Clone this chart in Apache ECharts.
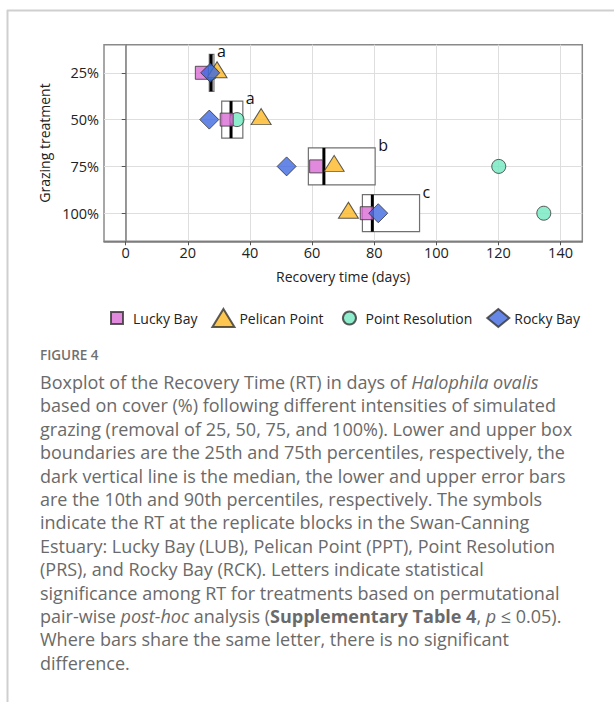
<!DOCTYPE html>
<html>
<head>
<meta charset="utf-8">
<script src="https://cdn.jsdelivr.net/npm/echarts@6/dist/echarts.min.js"></script>
<style>
  html, body { margin: 0; padding: 0; background: #fff; }
  #chart { width: 614px; height: 702px; }
</style>
</head>
<body>
<div id="chart"></div>
<script>
// Grazing treatments (rows, top to bottom) and recovery time ticks
const treatments = ['25%', '50%', '75%', '100%'];
const xTicks = [0, 20, 40, 60, 80, 100, 120, 140];

// Recovery time (days) at each replicate block
const luckyBay        = [24.5, 32.5, 61.3, 77.6];
const pelicanPoint    = [29.4, 43.6, 67.1, 71.7];
const pointResolution = [27.5, 35.8, 120.1, 134.6];
const rockyBay        = [27.2, 26.9, 51.8, 81.3];

// Box statistics per treatment (25th percentile, median, 75th percentile)
const boxQ1     = [26.9, 30.9, 58.8, 76.2];
const boxMedian = [27.5, 33.9, 63.8, 79.4];
const boxQ3     = [28.4, 37.7, 80.3, 94.6];
const groupLetters = ['a', 'a', 'b', 'c'];

const BOX_HEIGHT = 0.79;   // box thickness in row units
const FONT = 'Open Sans';

const rowPos = treatments.map((_, i) => i + 1);
const pts = vals => vals.map((v, i) => [v, rowPos[i]]);
const boxData = treatments.map((_, i) => [boxQ1[i], boxMedian[i], boxQ3[i], rowPos[i]]);

function boxGeom(api) {
  const y = api.value(3);
  const l = api.coord([api.value(0), y]);
  const m = api.coord([api.value(1), y]);
  const r = api.coord([api.value(2), y]);
  const h = Math.abs(api.size([0, BOX_HEIGHT])[1]);
  return { l, m, r, h, top: l[1] - h / 2 };
}

const captionLines = [
  '{n|Boxplot of the Recovery Time (RT) in days of }{i|Halophila ovalis}',
  '{n|based on cover (%) following different intensities of simulated}',
  '{n|grazing (removal of 25, 50, 75, and 100%). Lower and upper box}',
  '{n|boundaries are the 25th and 75th percentiles, respectively, the}',
  '{n|dark vertical line is the median, the lower and upper error bars}',
  '{n|are the 10th and 90th percentiles, respectively. The symbols}',
  '{n|indicate the RT at the replicate blocks in the Swan-Canning}',
  '{n|Estuary: Lucky Bay (LUB), Pelican Point (PPT), Point Resolution}',
  '{n|(PRS), and Rocky Bay (RCK). Letters indicate statistical}',
  '{n|significance among RT for treatments based on permutational}',
  '{n|pair-wise }{i|post-hoc}{n| analysis (}{g|Supplementary Table 4}{n|, }{i|p}{n| ≤ 0.05).}',
  '{n|Where bars share the same letter, there is no significant}',
  '{n|difference.}'
];
const CAP_SIZE = 18;
const capRich = {
  n: { fontFamily: FONT, fontSize: CAP_SIZE, color: '#6a6a6a' },
  i: { fontFamily: FONT, fontSize: CAP_SIZE, color: '#6a6a6a', fontStyle: 'italic' },
  g: { fontFamily: FONT, fontSize: CAP_SIZE, color: '#3fae4a', fontWeight: 'bold' }
};

const markerBorder = { borderColor: '#333', borderWidth: 1 };
const axisText = { fontFamily: FONT, fontSize: 14.5, color: '#222' };
const nameText = { fontFamily: FONT, fontSize: 14, color: '#222' };

const chart = echarts.init(document.getElementById('chart'), null, { renderer: 'svg' });
chart.setOption({
  animation: false,
  backgroundColor: '#fff',
  grid: {
    left: 104, top: 44.7, right: 31.7, bottom: 460.7,
    show: true, borderColor: '#8a8a8a', borderWidth: 1.5, containLabel: false
  },
  xAxis: {
    type: 'value', min: -7, max: 147,
    name: 'Recovery time (days)', nameLocation: 'middle', nameGap: 28,
    nameTextStyle: nameText,
    axisLine: { show: true, lineStyle: { color: '#7a7a7a', width: 1.5 } },
    axisTick: { show: true, length: 4, customValues: xTicks, lineStyle: { color: '#555' } },
    axisLabel: Object.assign({ customValues: xTicks, margin: 4 }, axisText),
    splitLine: { show: true, lineStyle: { color: '#dedede', width: 1 } }
  },
  yAxis: {
    type: 'value', inverse: true, min: 0.4, max: 4.6,
    name: 'Grazing treatment', nameLocation: 'middle', nameGap: 50, nameRotate: 90,
    nameTextStyle: nameText,
    axisLine: { show: true, lineStyle: { color: '#7a7a7a', width: 1.5 } },
    axisTick: { show: true, length: 4, customValues: rowPos, lineStyle: { color: '#555' } },
    axisLabel: Object.assign({
      customValues: rowPos, margin: 5,
      formatter: v => treatments[Math.round(v) - 1] || ''
    }, axisText),
    splitLine: { show: true, lineStyle: { color: '#dedede', width: 1 } }
  },
  legend: {
    data: [
      { name: 'Lucky Bay', icon: 'path://M0,0M22,18M5,3h12v12h-12z' },
      { name: 'Pelican Point', icon: 'triangle' },
      { name: 'Point Resolution', icon: 'path://M0,0M22,18M11,2.5a6.5,6.5 0 1,0 0.001,0z' },
      { name: 'Rocky Bay', icon: 'diamond' }
    ],
    left: 100, top: 303, itemWidth: 22, itemHeight: 18, itemGap: 14,
    textStyle: { fontFamily: FONT, fontSize: 14, color: '#222' }
  },
  series: [
    {
      type: 'custom', name: 'boxes', data: boxData, silent: true,
      renderItem: (params, api) => {
        const g = boxGeom(api);
        return {
          type: 'rect',
          shape: { x: g.l[0], y: g.top, width: g.r[0] - g.l[0], height: g.h },
          style: { fill: '#fff', stroke: '#707070', lineWidth: 1.2 }
        };
      }
    },
    {
      type: 'scatter', name: 'Point Resolution', data: pts(pointResolution),
      symbol: 'circle', symbolSize: 14,
      itemStyle: Object.assign({ color: '#72e8c1' }, markerBorder)
    },
    {
      type: 'custom', name: 'medians', data: boxData, silent: true,
      renderItem: (params, api) => {
        const g = boxGeom(api);
        return {
          type: 'group',
          children: [
            { type: 'line', shape: { x1: g.m[0], y1: g.top, x2: g.m[0], y2: g.top + g.h },
              style: { stroke: '#000', lineWidth: 3 } },
            { type: 'text', x: g.r[0] + 3, y: g.top - 3,
              style: { text: groupLetters[params.dataIndex], fontFamily: FONT, fontSize: 16,
                       fill: '#111', verticalAlign: 'middle', align: 'left' } }
          ]
        };
      }
    },
    {
      type: 'scatter', name: 'Lucky Bay', data: pts(luckyBay),
      symbol: 'rect', symbolSize: 13,
      itemStyle: Object.assign({ color: '#d86bd5' }, markerBorder)
    },
    {
      type: 'scatter', name: 'Pelican Point', data: pts(pelicanPoint),
      symbol: 'triangle', symbolSize: [20, 16], symbolOffset: [0, -3],
      itemStyle: Object.assign({ color: '#fbb826' }, markerBorder)
    },
    {
      type: 'scatter', name: 'Rocky Bay', data: pts(rockyBay),
      symbol: 'diamond', symbolSize: 19,
      itemStyle: Object.assign({ color: '#4169e1' }, markerBorder)
    }
  ],
  graphic: [
    { type: 'line', shape: { x1: 7.5, y1: 10, x2: 7.5, y2: 702 }, style: { stroke: '#cfcfcf', lineWidth: 2 } },
    { type: 'line', shape: { x1: 7, y1: 10.5, x2: 614, y2: 10.5 }, style: { stroke: '#cfcfcf', lineWidth: 2 } },
    { type: 'text', x: 40, y: 355,
      style: { text: 'FIGURE 4', fontFamily: FONT, fontSize: 13.5, fontWeight: 600,
               fill: '#707070', verticalAlign: 'middle' } }
  ].concat(captionLines.map((line, i) => ({
    type: 'text', x: 40, y: 382 + i * 23.4,
    style: { text: line, rich: capRich, verticalAlign: 'middle', fontFamily: FONT, fontSize: CAP_SIZE, fill: '#6a6a6a' }
  })))
});
</script>
</body>
</html>
